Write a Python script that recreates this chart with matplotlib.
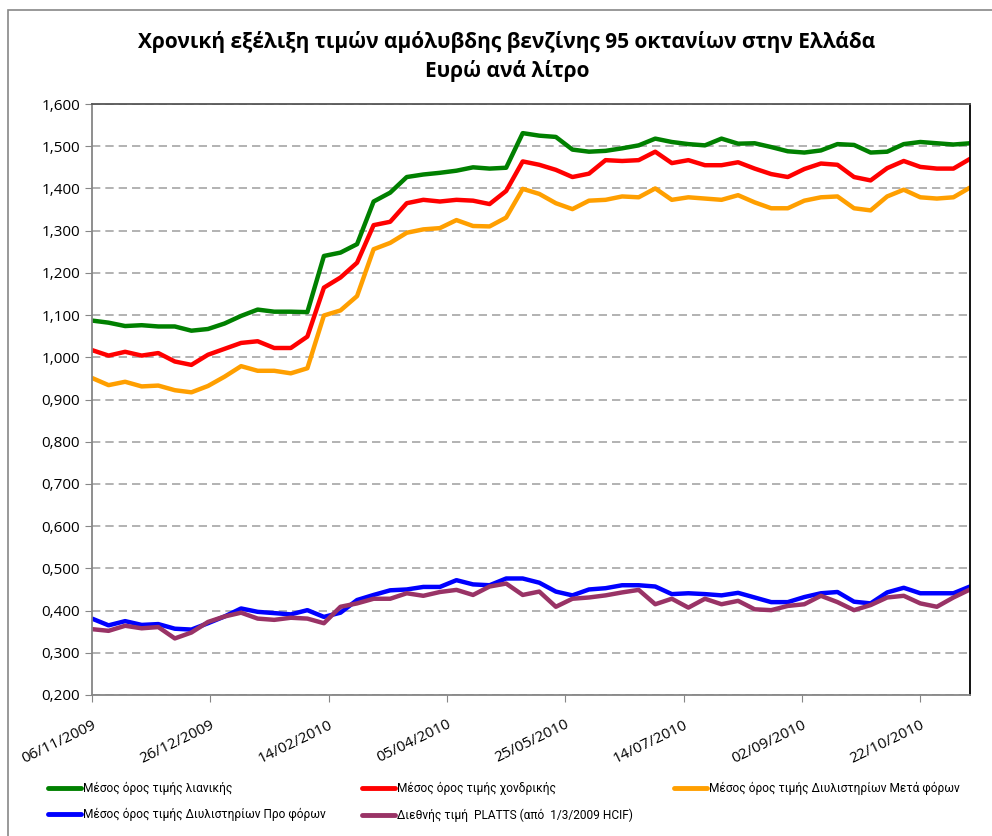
import matplotlib
matplotlib.use('Agg')
import matplotlib.pyplot as plt
import matplotlib.dates as mdates
from matplotlib.patches import Rectangle
from matplotlib.ticker import FuncFormatter, MultipleLocator
import pandas as pd

# weekly observations, first one on 06/11/2009
dates = pd.date_range('2009-11-06', periods=54, freq='7D')

retail = [1.087, 1.082, 1.074, 1.076, 1.073, 1.073, 1.063, 1.067, 1.080, 1.098,
          1.113, 1.108, 1.108, 1.107, 1.240, 1.248, 1.268, 1.369, 1.390, 1.427,
          1.433, 1.437, 1.442, 1.450, 1.447, 1.449, 1.531, 1.525, 1.522, 1.492,
          1.487, 1.489, 1.495, 1.502, 1.518, 1.510, 1.505, 1.502, 1.518, 1.506,
          1.507, 1.498, 1.488, 1.485, 1.490, 1.505, 1.503, 1.485, 1.487, 1.505,
          1.510, 1.507, 1.504, 1.507]
wholesale = [1.017, 1.004, 1.013, 1.004, 1.010, 0.990, 0.982, 1.006, 1.020, 1.034,
             1.038, 1.022, 1.022, 1.049, 1.165, 1.189, 1.224, 1.313, 1.321, 1.365,
             1.373, 1.369, 1.373, 1.371, 1.363, 1.394, 1.464, 1.456, 1.444, 1.427,
             1.435, 1.467, 1.465, 1.467, 1.487, 1.460, 1.467, 1.455, 1.455, 1.462,
             1.447, 1.434, 1.427, 1.446, 1.459, 1.456, 1.427, 1.419, 1.448, 1.465,
             1.451, 1.447, 1.447, 1.470]
refinery_after_tax = [0.951, 0.934, 0.942, 0.931, 0.933, 0.922, 0.917, 0.932, 0.954, 0.979,
                      0.968, 0.968, 0.962, 0.974, 1.099, 1.111, 1.145, 1.256, 1.271, 1.295,
                      1.303, 1.306, 1.325, 1.311, 1.310, 1.331, 1.399, 1.387, 1.365, 1.351,
                      1.371, 1.373, 1.381, 1.379, 1.400, 1.373, 1.379, 1.376, 1.373, 1.384,
                      1.367, 1.353, 1.353, 1.371, 1.379, 1.381, 1.353, 1.348, 1.381, 1.397,
                      1.379, 1.376, 1.379, 1.402]
refinery_before_tax = [0.381, 0.365, 0.375, 0.366, 0.368, 0.357, 0.355, 0.370, 0.386, 0.405,
                       0.397, 0.394, 0.391, 0.401, 0.385, 0.395, 0.425, 0.437, 0.448, 0.450,
                       0.456, 0.456, 0.472, 0.462, 0.460, 0.476, 0.476, 0.466, 0.445, 0.436,
                       0.450, 0.453, 0.460, 0.460, 0.457, 0.439, 0.441, 0.439, 0.436, 0.442,
                       0.431, 0.420, 0.420, 0.432, 0.441, 0.444, 0.421, 0.417, 0.443, 0.454,
                       0.441, 0.441, 0.441, 0.457]
platts = [0.356, 0.352, 0.364, 0.358, 0.361, 0.334, 0.348, 0.373, 0.386, 0.395,
          0.381, 0.378, 0.383, 0.381, 0.370, 0.409, 0.417, 0.428, 0.428, 0.441,
          0.435, 0.444, 0.449, 0.437, 0.457, 0.464, 0.437, 0.445, 0.409, 0.428,
          0.431, 0.436, 0.443, 0.449, 0.415, 0.428, 0.407, 0.428, 0.415, 0.423,
          0.403, 0.401, 0.411, 0.415, 0.435, 0.420, 0.401, 0.413, 0.431, 0.435,
          0.417, 0.409, 0.431, 0.450]

labels = ['Μέσος όρος τιμής λιανικής',
          'Μέσος όρος τιμής χονδρικής',
          'Μέσος όρος τιμής Διυλιστηρίων Μετά φόρων',
          'Μέσος όρος τιμής Διυλιστηρίων Προ φόρων',
          'Διεθνής τιμή  PLATTS (από  1/3/2009 HCIF)']
colors = ['#008000', '#FF0000', '#FF9F00', '#0000FF', '#993366']
series = [retail, wholesale, refinery_after_tax, refinery_before_tax, platts]

tick_dates = pd.date_range('2009-11-06', periods=8, freq='50D')

plt.rcParams['font.family'] = ['Open Sans', 'DejaVu Sans']

fig = plt.figure(figsize=(9.92, 8.36), dpi=100)
ax = fig.add_axes([92/992, 1 - 695/836, (970 - 92)/992, (695 - 104)/836])

# outer chart frame
fig.patches.append(Rectangle((8/992, -0.1), 1.2, 1 - 10/836 + 0.1, transform=fig.transFigure,
                             fill=False, edgecolor='#888888', linewidth=1.2))

handles = []
for vals, col, lab in zip(series, colors, labels):
    h, = ax.plot(dates, vals, color=col, linewidth=3.2, label=lab,
                 solid_joinstyle='round', solid_capstyle='round')
    handles.append(h)

ax.set_ylim(0.2, 1.6)
ax.set_xlim(dates[0], dates[-1])
ax.yaxis.set_major_locator(MultipleLocator(0.1))
ax.yaxis.set_major_formatter(FuncFormatter(lambda v, p: f'{v:.3f}'.replace('.', ',')))
ax.grid(axis='y', color='#a6a6a6', linestyle=(0, (5, 3)), linewidth=1.2)
ax.set_axisbelow(True)

ax.set_xticks(tick_dates)
ax.xaxis.set_major_formatter(mdates.DateFormatter('%d/%m/%Y'))
for t in ax.get_xticklabels():
    t.set_rotation(26)
    t.set_ha('right')
    t.set_rotation_mode('anchor')
ax.tick_params(axis='both', labelsize=11, length=5, color='#868686', direction='out')
ax.tick_params(axis='x', pad=11)

ax.spines['left'].set_color('#868686')
ax.spines['bottom'].set_color('#868686')
ax.spines['top'].set_color('#555555')
ax.spines['right'].set_color('#000000')
for sp in ax.spines.values():
    sp.set_linewidth(1.3)

fig.text(0.511, 0.950, 'Χρονική εξέλιξη τιμών αμόλυβδης βενζίνης 95 οκτανίων στην Ελλάδα',
         ha='center', va='center', fontsize=15, fontweight='bold')
fig.text(0.511, 0.915, 'Ευρώ ανά λίτρο', ha='center', va='center',
         fontsize=15, fontweight='bold')

# legend laid out as three columns, placed like the original
leg_font = {'family': ['Roboto', 'DejaVu Sans'], 'size': 8.6}
columns = [([0, 3], 48), ([1, 4], 362), ([2], 674)]
for idx, xpx in columns:
    leg = fig.legend([handles[i] for i in idx], [labels[i] for i in idx],
                     loc='upper left', bbox_to_anchor=(xpx/992, 1 - 782/836),
                     frameon=False, prop=leg_font, handlelength=2.8, handletextpad=0.15,
                     labelspacing=1.1, borderaxespad=0, borderpad=0)
    for lh in leg.get_lines():
        lh.set_linewidth(3.5)

fig.savefig('out.png', dpi=100)
